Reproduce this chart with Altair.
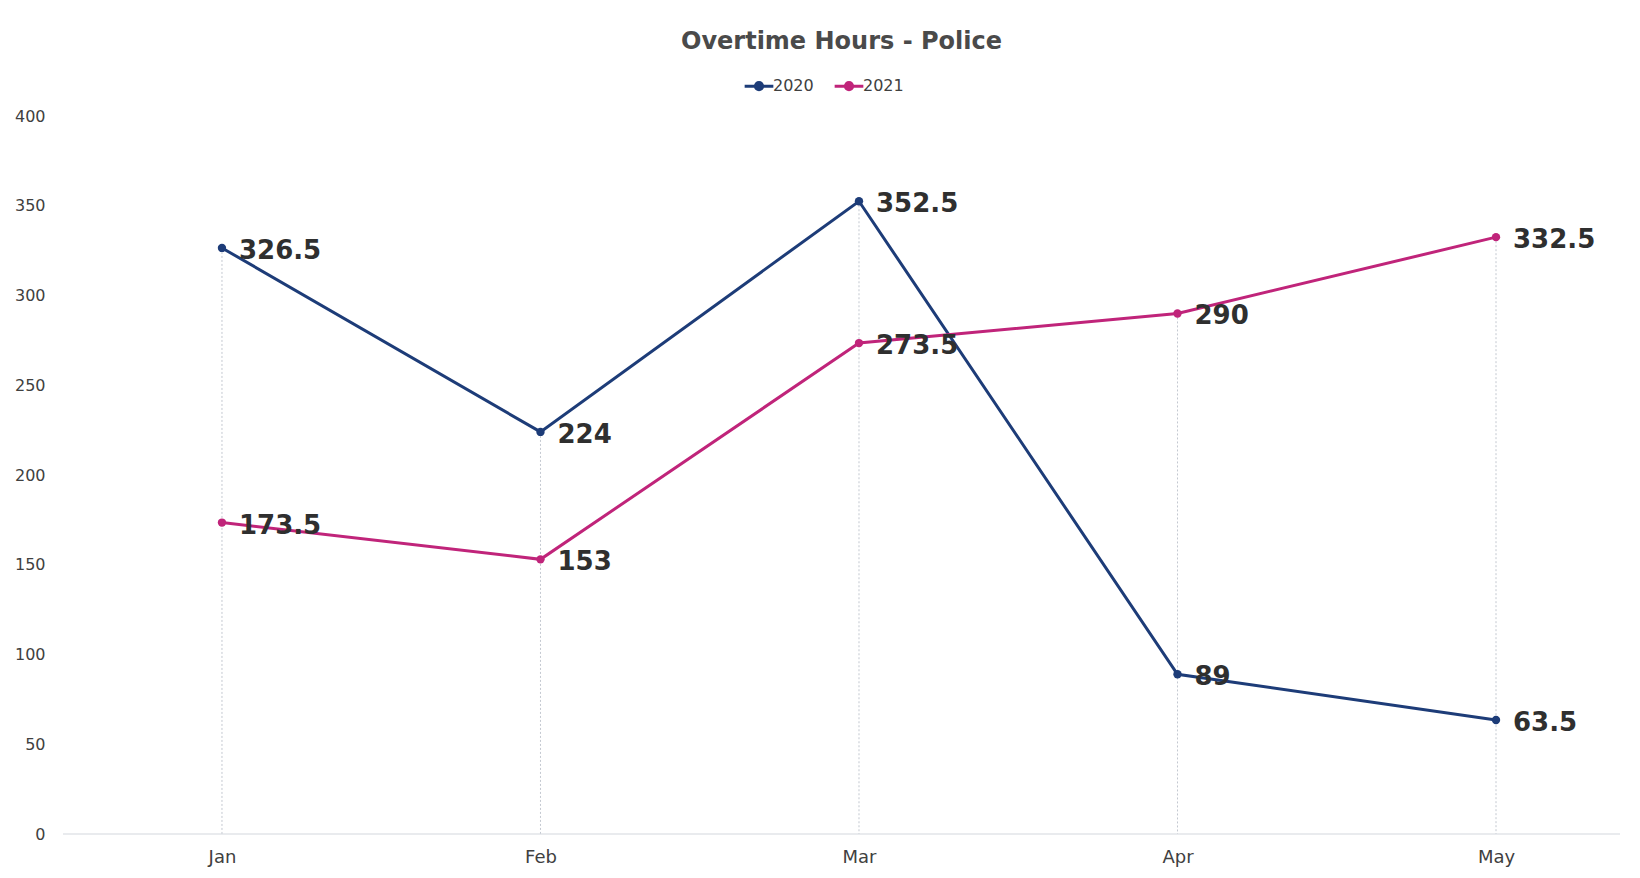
import altair as alt
import pandas as pd

months = ["Jan", "Feb", "Mar", "Apr", "May"]
series_2020 = [326.5, 224, 352.5, 89, 63.5]
series_2021 = [173.5, 153, 273.5, 290, 332.5]
series_names = ["2020", "2021"]
series_colors = ["#1d3c78", "#c0247a"]

rows = []
for m, v in zip(months, series_2020):
    rows.append({"Month": m, "Year": "2020", "Hours": v})
for m, v in zip(months, series_2021):
    rows.append({"Month": m, "Year": "2021", "Hours": v})
df = pd.DataFrame(rows)

FONT = "DejaVu Sans"
W, H = 1557, 718

xscale = alt.Scale(type="point", domain=months, padding=0.4442, align=0.5618)
x_axis = alt.Axis(labelAngle=0, labelAlign="center", labelBaseline="top",
                  grid=False, domain=False, ticks=False,
                  labelPadding=14, labelFontSize=18, labelColor="#404040",
                  labelFont=FONT)
x = alt.X("Month:N", sort=months, title=None, scale=xscale, axis=x_axis)
y = alt.Y("Hours:Q", title=None,
          scale=alt.Scale(domain=[0, 400]),
          axis=alt.Axis(values=[0, 50, 100, 150, 200, 250, 300, 350, 400], grid=False,
                        domain=False, ticks=False, labelPadding=18, labelFontSize=16,
                        labelColor="#404040", labelFont=FONT))
color = alt.Color("Year:N", scale=alt.Scale(domain=series_names, range=series_colors),
                  legend=alt.Legend(title=None, orient="none", direction="horizontal",
                                    legendX=684, legendY=-42,
                                    labelFontSize=16, labelFont=FONT, labelColor="#404040",
                                    symbolType="M-1.4,0L1.4,0M-0.35,0a0.35,0.35 0 1,0 0.7,0a0.35,0.35 0 1,0 -0.7,0",
                                    symbolSize=420, symbolStrokeWidth=3, columnPadding=14,
                                    labelOffset=2))

drops = alt.Chart(df).transform_aggregate(
    top="max(Hours)", groupby=["Month"]
).transform_calculate(zero="0").mark_rule(
    color="#c3c8d0", strokeDash=[2, 2], strokeWidth=1
).encode(x=alt.X("Month:N", sort=months, scale=xscale, axis=x_axis), y="top:Q", y2="zero:Q")

baseline = alt.Chart(df).transform_aggregate(n="count()").transform_calculate(
    zero="0").mark_rule(color="#d3d7dd", strokeWidth=1).encode(
    y="zero:Q", x=alt.value(0), x2=alt.value(W))

base = alt.Chart(df).encode(x=x, y=y, color=color)
lines = base.mark_line(strokeWidth=3)
points = base.mark_point(filled=True, size=70, opacity=1)
labels = base.mark_text(align="left", baseline="middle", dx=17, dy=3, fontSize=26,
                        fontWeight="bold", font=FONT, color="#2f2f2f").encode(
    text=alt.Text("Hours:Q"), color=alt.value("#2f2f2f"))

chart = alt.layer(drops, baseline, lines, points, labels).properties(
    width=W, height=H,
    autosize=alt.AutoSizeParams(type="none"),
    padding={"left": 55, "top": 108, "right": 12, "bottom": 44},
    title=alt.TitleParams("Overtime Hours - Police", fontSize=24, font=FONT,
                          fontWeight="bold", color="#4a4a4a", anchor="middle", offset=20),
).configure_view(stroke=None)

chart.save("out.html", embed_options={"renderer": "svg", "actions": False})
